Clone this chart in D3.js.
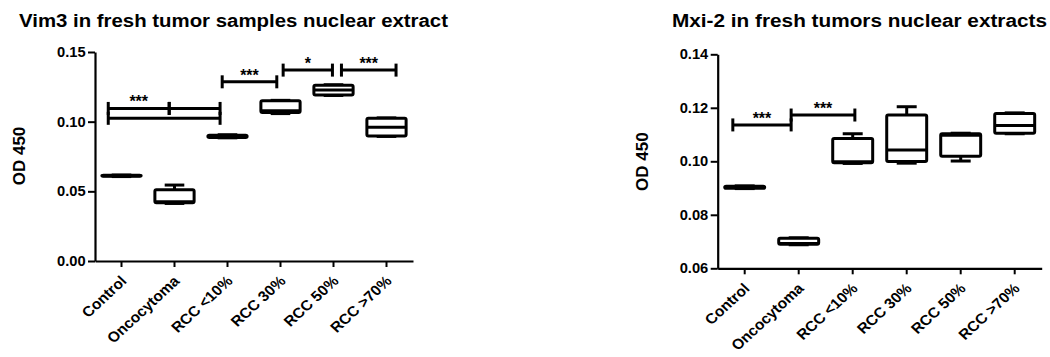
<!DOCTYPE html>
<html>
<head>
<meta charset="utf-8">
<script src="https://cdn.jsdelivr.net/npm/d3@7"></script>
<style>
  html, body { margin: 0; padding: 0; background: #fff; }
  svg { display: block; }
  text { font-family: "Liberation Sans", Arial, Helvetica, sans-serif; font-weight: bold; fill: #000; }
</style>
</head>
<body>
<svg id="chart" width="1050" height="357"></svg>
<script>
// ---------------- DATA ----------------
const categories = ["Control", "Oncocytoma", "RCC <10%", "RCC 30%", "RCC 50%", "RCC >70%"];

// Vim3 (left panel) box statistics
const vimMin    = [0.0606, 0.0413, 0.0884, 0.1058, 0.1188, 0.0894];
const vimQ1     = [0.0608, 0.0418, 0.0887, 0.1066, 0.1191, 0.0897];
const vimMedian = [0.0612, 0.0425, 0.0895, 0.1078, 0.1227, 0.0960];
const vimQ3     = [0.0615, 0.0512, 0.0903, 0.1150, 0.1262, 0.1024];
const vimMax    = [0.0617, 0.0545, 0.0906, 0.1153, 0.1265, 0.1027];
const vimTicks  = [0.00, 0.05, 0.10, 0.15];
const vimTitle  = "Vim3 in fresh tumor samples nuclear extract";

// Vim3 significance brackets (category-index units, value units)
const vimSigFrom  = [-0.25, 0.90, -0.25, 1.90, 3.05, 4.15];
const vimSigTo    = [ 0.90, 1.86,  1.86, 2.93, 3.98, 5.18];
const vimSigValue = [0.1095, 0.1095, 0.1024, 0.1286, 0.1370, 0.1370];
const vimSigLabel = ["***", "", "", "***", "*", "***"];

// Mxi-2 (right panel) box statistics
const mxiMin    = [0.0898, 0.0688, 0.0992, 0.0993, 0.1001, 0.1103];
const mxiQ1     = [0.0899, 0.0690, 0.0995, 0.0999, 0.1019, 0.1105];
const mxiMedian = [0.0903, 0.0693, 0.0998, 0.1042, 0.1097, 0.1134];
const mxiQ3     = [0.0907, 0.0712, 0.1085, 0.1173, 0.1103, 0.1179];
const mxiMax    = [0.0908, 0.0714, 0.1103, 0.1204, 0.1105, 0.1181];
const mxiTicks  = [0.06, 0.08, 0.10, 0.12, 0.14];
const mxiTitle  = "Mxi-2 in fresh tumors nuclear extracts";

const mxiSigFrom  = [-0.22, 0.86];
const mxiSigTo    = [ 0.86, 2.04];
const mxiSigValue = [0.1136, 0.1173];
const mxiSigLabel = ["***", "***"];

const yLabel = "OD 450";

// ---------------- DRAWING ----------------
const svg = d3.select("#chart");

function drawPanel(cfg, stats, sig, ticks, title) {
  const g = svg.append("g");

  const x = d3.scaleBand().domain(categories).range([cfg.x0, cfg.x1]).padding(0);
  const xi = d3.scaleLinear().domain([-0.5, categories.length - 0.5]).range([cfg.x0, cfg.x1]);
  const y = d3.scaleLinear().domain(cfg.yDomain).range([cfg.yBottom, cfg.yTop]);

  // title
  g.append("text")
    .attr("x", cfg.titleX).attr("y", cfg.titleY)
    .attr("font-size", 18)
    .attr("textLength", cfg.titleLen)
    .attr("lengthAdjust", "spacingAndGlyphs")
    .text(title);

  // y axis
  const ya = g.append("g")
    .attr("transform", `translate(${cfg.x0},0)`)
    .call(d3.axisLeft(y).tickValues(ticks).tickFormat(d3.format(".2f")).tickSize(7).tickSizeOuter(0).tickPadding(2));
  ya.select(".domain").attr("stroke", "#000").attr("stroke-width", 2.2);
  ya.selectAll(".tick line").attr("stroke", "#000").attr("stroke-width", 2);
  ya.selectAll(".tick text").attr("font-size", 14).attr("font-family", null).attr("fill", "#000")
    .attr("transform", "scale(1.05,1)");

  // x axis
  const xa = g.append("g")
    .attr("transform", `translate(0,${cfg.yBottom})`)
    .call(d3.axisBottom(x).tickSize(6).tickSizeOuter(0));
  xa.select(".domain").attr("stroke", "#000").attr("stroke-width", 2.2);
  xa.selectAll(".tick line").attr("stroke", "#000").attr("stroke-width", 2);
  xa.selectAll(".tick text")
    .attr("font-size", 14.5).attr("font-family", null).attr("fill", "#000")
    .attr("text-anchor", "end")
    .attr("x", null).attr("y", null).attr("dy", null)
    .attr("transform", "translate(6,21) scale(1.08,1) rotate(-45)");

  // y label
  g.append("text")
    .attr("transform", `translate(${cfg.yLabelX},${cfg.yLabelY}) rotate(-90)`)
    .attr("text-anchor", "middle")
    .attr("font-size", 17)
    .text(yLabel);

  // boxes
  const bw = x.bandwidth() * 0.74;
  const capW = bw * 0.5;
  const boxes = g.append("g").selectAll("g.box")
    .data(categories.map((c, i) => ({ c, min: stats.min[i], q1: stats.q1[i], med: stats.med[i], q3: stats.q3[i], max: stats.max[i] })))
    .join("g").attr("class", "box");

  const cx = d => x(d.c) + x.bandwidth() / 2;
  const lineAttrs = sel => sel.attr("stroke", "#000").attr("stroke-width", 3).attr("fill", "none");

  boxes.append("line").call(lineAttrs)
    .attr("x1", cx).attr("x2", cx).attr("y1", d => y(d.max)).attr("y2", d => y(d.q3));
  boxes.append("line").call(lineAttrs)
    .attr("x1", cx).attr("x2", cx).attr("y1", d => y(d.q1)).attr("y2", d => y(d.min));
  boxes.append("line").call(lineAttrs)
    .attr("x1", d => cx(d) - capW / 2).attr("x2", d => cx(d) + capW / 2).attr("y1", d => y(d.max)).attr("y2", d => y(d.max));
  boxes.append("line").call(lineAttrs)
    .attr("x1", d => cx(d) - capW / 2).attr("x2", d => cx(d) + capW / 2).attr("y1", d => y(d.min)).attr("y2", d => y(d.min));
  boxes.append("rect")
    .attr("x", d => cx(d) - bw / 2).attr("width", bw)
    .attr("y", d => y(d.q3)).attr("height", d => Math.max(0.5, y(d.q1) - y(d.q3)))
    .attr("fill", "#fff").attr("stroke", "#000").attr("stroke-width", 3).attr("rx", 1.5);
  boxes.append("line").call(lineAttrs)
    .attr("x1", d => cx(d) - bw / 2).attr("x2", d => cx(d) + bw / 2).attr("y1", d => y(d.med)).attr("y2", d => y(d.med));

  // significance brackets
  const capH = 6.5;
  const sg = g.append("g").selectAll("g.sig")
    .data(sig.from.map((f, i) => ({ from: f, to: sig.to[i], v: sig.value[i], label: sig.label[i] })))
    .join("g").attr("class", "sig");
  sg.append("line").call(lineAttrs)
    .attr("x1", d => xi(d.from)).attr("x2", d => xi(d.to)).attr("y1", d => y(d.v)).attr("y2", d => y(d.v));
  sg.append("line").call(lineAttrs)
    .attr("x1", d => xi(d.from)).attr("x2", d => xi(d.from)).attr("y1", d => y(d.v) - capH).attr("y2", d => y(d.v) + capH);
  sg.append("line").call(lineAttrs)
    .attr("x1", d => xi(d.to)).attr("x2", d => xi(d.to)).attr("y1", d => y(d.v) - capH).attr("y2", d => y(d.v) + capH);
  sg.append("text")
    .attr("x", d => (xi(d.from) + xi(d.to)) / 2)
    .attr("y", d => y(d.v) - 1)
    .attr("text-anchor", "middle")
    .attr("font-size", 16)
    .text(d => d.label);
}

drawPanel(
  { x0: 95, x1: 413, yTop: 52, yBottom: 261, yDomain: [0, 0.15],
    titleX: 19, titleY: 27, titleLen: 429, yLabelX: 25, yLabelY: 156 },
  { min: vimMin, q1: vimQ1, med: vimMedian, q3: vimQ3, max: vimMax },
  { from: vimSigFrom, to: vimSigTo, value: vimSigValue, label: vimSigLabel },
  vimTicks, vimTitle
);

drawPanel(
  { x0: 717.7, x1: 1041.7, yTop: 54.3, yBottom: 268.3, yDomain: [0.06, 0.14],
    titleX: 672, titleY: 27, titleLen: 375, yLabelX: 648, yLabelY: 161.7 },
  { min: mxiMin, q1: mxiQ1, med: mxiMedian, q3: mxiQ3, max: mxiMax },
  { from: mxiSigFrom, to: mxiSigTo, value: mxiSigValue, label: mxiSigLabel },
  mxiTicks, mxiTitle
);
</script>
</body>
</html>
